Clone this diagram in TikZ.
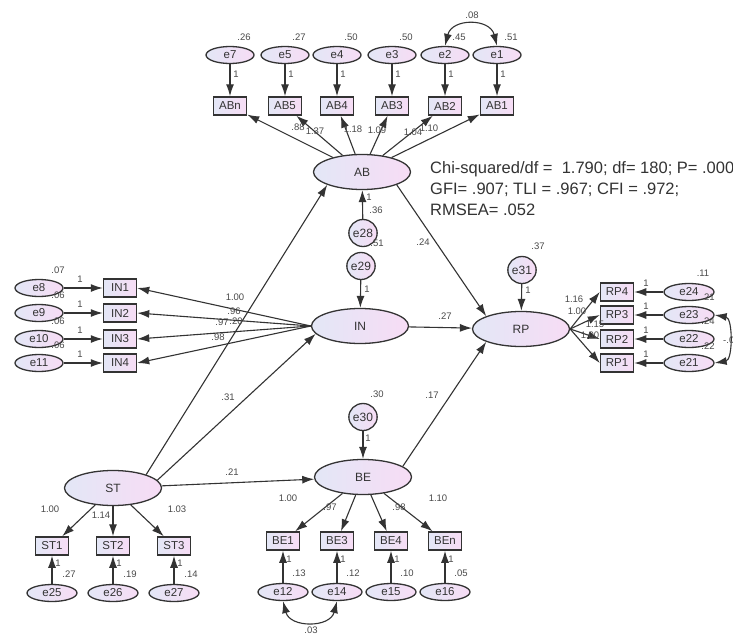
\documentclass[tikz,border=0pt]{standalone}
\usepackage{fontspec}
\setmainfont{Liberation Sans}
\usetikzlibrary{shapes.geometric,arrows.meta}
\definecolor{lc}{HTML}{333333}
\definecolor{fl}{HTML}{E3E7F6}
\definecolor{fr}{HTML}{F7DCF5}
\definecolor{tc}{HTML}{333333}
\definecolor{nc}{HTML}{4A4A4A}
\begin{document}
\begin{tikzpicture}[x=1pt,y=-1pt,
  fillsty/.style={draw=lc, left color=fl, right color=fr, inner sep=0pt, text=tc},
  lat/.style={fillsty, ellipse, line width=1.3pt, minimum width=97pt, minimum height=35pt, font=\fontsize{12}{13}\selectfont},
  err/.style={fillsty, ellipse, line width=1.3pt, minimum width=48pt, minimum height=17pt, font=\fontsize{11.5}{12}\selectfont},
  dist/.style={fillsty, ellipse, line width=1.3pt, minimum width=25pt, minimum height=27pt, font=\fontsize{12}{12}\selectfont},
  obs/.style={fillsty, rectangle, line width=1.5pt, minimum width=33pt, minimum height=18pt, font=\fontsize{11.5}{12}\selectfont},
  lbl/.style={inner sep=0pt, font=\fontsize{9.5}{10}\selectfont, text=nc},
  arr/.style={draw=lc, line width=1.1pt, -{Latex[length=12pt,width=8pt]}},
  cov/.style={draw=lc, line width=1.1pt, {Latex[length=12pt,width=8pt]}-{Latex[length=12pt,width=8pt]}},
]
\fill[white] (0,0) rectangle (733,634);
\useasboundingbox (0,0) rectangle (733,634);

% ---------- AB block ----------
\foreach \n/\x in {e7/230,e5/285,e4/337,e3/392,e2/445,e1/497}
  \node[err] (\n) at (\x,55) {\n};
\foreach \n/\x in {ABn/230,AB5/285,AB4/337,AB3/392,AB2/445,AB1/497}
  \node[obs] (\n) at (\x,106) {\n};
\node[lat] (AB) at (362,172) {AB};
\foreach \a/\b in {e7/ABn,e5/AB5,e4/AB4,e3/AB3,e2/AB2,e1/AB1}
  \draw[arr] (\a) -- (\b);
\foreach \b in {ABn,AB5,AB4,AB3,AB2,AB1}
  \draw[arr] (AB) -- (\b);
\draw[cov] (e2.north) .. controls (452,18) and (490,18) .. (e1.north);
\foreach \x/\v [count=\i] in {230/.26,285/.27,337/.50,392/.50,445/.45,497/.51}{
  \node[lbl] (va\i) at (\x+14,37) {\v};
  \node[lbl] (oa\i) at (\x+6,74) {1};
}
\node[lbl] (c12) at (472,15) {.08};
\node[lbl] (la1) at (298,127) {.88};
\node[lbl] (la2) at (315,131) {1.37};
\node[lbl] (la3) at (353,129) {1.18};
\node[lbl] (la4) at (377,130) {1.09};
\node[lbl] (la5) at (413,132) {1.04};
\node[lbl] (la6) at (429,128) {1.10};

% fit statistics
\node[anchor=north west, align=left, inner sep=0pt, text=tc,
      font=\fontsize{16.5}{21}\selectfont] (fit) at (430,161)
  {Chi-squared/df =\ \ 1.790; df= 180; P= .000\\GFI= .907; TLI = .967; CFI = .972;\\RMSEA= .052};

% ---------- disturbances e28 / e29 ----------
\node[dist] (e28) at (363,233) {e28};
\node[dist] (e29) at (361,266) {e29};
\draw[arr] (e28) -- (AB);
\node[lbl] (o28) at (369,197) {1};
\node[lbl] (v28) at (376,210) {.36};
\node[lbl] (v29) at (377,243) {.51};

% ---------- IN block ----------
\node[lat] (IN) at (360,326) {IN};
\draw[arr] (e29) -- (IN);
\node[lbl] (o29) at (367,289) {1};
\foreach \i/\y/\v in {1/288/.07,2/313/.06,3/339/.06,4/363/.06}{
  \node[obs] (IN\i) at (120,\y) {IN\i};
  \pgfmathtruncatemacro{\k}{\i+7}
  \node[err] (e\k) at (39,\y) {e\k};
  \draw[arr] (e\k) -- (IN\i);
  \draw[arr] (IN.west) -- (IN\i.east);
  \node[lbl] (oi\i) at (80,\y-9) {1};
  \node[lbl] (vi\i) at (58,\y-18) {\v};
}
\node[lbl] (li1) at (235,297) {1.00};
\node[lbl] (li2) at (234,311) {.96};
\node[lbl] (li3) at (222,322) {.97};
\node[lbl] (li4) at (218,337) {.98};

% ---------- RP block ----------
\node[lat] (RP) at (521,329) {RP};
\node[dist] (e31) at (522,270) {e31};
\draw[arr] (e31) -- (RP);
\node[lbl] (o31) at (528,290) {1};
\node[lbl] (v31) at (538,246) {.37};
\foreach \i/\y in {4/292,3/315,2/339,1/363}{
  \node[obs] (RP\i) at (617,\y) {RP\i};
  \pgfmathtruncatemacro{\k}{\i+20}
  \node[err, minimum width=50pt] (e\k) at (689,\y) {e\k};
  \draw[arr] (e\k) -- (RP\i);
  \draw[arr] (RP.east) -- (RP\i.west);
  \node[lbl] (or\i) at (646,\y-9) {1};
}
\node[lbl] (vr4) at (703,273) {.11};
\node[lbl] (vr3) at (708,297) {.21};
\node[lbl] (vr2) at (708,321) {.24};
\node[lbl] (vr1) at (708,346) {.22};
\draw[cov] (e23.east) .. controls (733,318) and (733,360) .. (e21.east);
\node[lbl, anchor=west] (c2123) at (723,340) {-.04};
\node[lbl] (lr1) at (574,299) {1.16};
\node[lbl] (lr2) at (577,311) {1.00};
\node[lbl] (lr3) at (595,324) {1.15};
\node[lbl] (lr4) at (590,335) {1.00};

% ---------- ST block ----------
\node[lat] (ST) at (113,488) {ST};
\foreach \i/\x/\v in {1/52/.27,2/113/.19,3/174/.14}{
  \node[obs] (ST\i) at (\x,546) {ST\i};
  \pgfmathtruncatemacro{\k}{\i+24}
  \node[err, minimum width=50pt] (e\k) at (\x,593) {e\k};
  \draw[arr] (e\k) -- (ST\i);
  \draw[arr] (ST) -- (ST\i);
  \node[lbl] (os\i) at (\x+6,563) {1};
  \node[lbl] (vs\i) at (\x+17,574) {\v};
}
\node[lbl] (ls1) at (50,509) {1.00};
\node[lbl] (ls2) at (101,515) {1.14};
\node[lbl] (ls3) at (177,509) {1.03};

% ---------- BE block ----------
\node[lat] (BE) at (363,477) {BE};
\node[dist] (e30) at (363,417) {e30};
\draw[arr] (e30) -- (BE);
\node[lbl] (o30) at (368,438) {1};
\node[lbl] (v30) at (377,394) {.30};
\foreach \n/\e/\x/\v in {BE1/e12/283/.13,BE3/e14/337/.12,BE4/e15/391/.10,BEn/e16/445/.05}{
  \node[obs] (\n) at (\x,541) {\n};
  \node[err, minimum width=50pt] (\e) at (\x,592) {\e};
  \draw[arr] (\e) -- (\n);
  \draw[arr] (BE) -- (\n);
  \node[lbl] (o\e) at (\x+6,559) {1};
  \node[lbl] (v\e) at (\x+16,573) {\v};
}
\draw[cov] (e12.south) .. controls (290,628) and (330,628) .. (e14.south);
\node[lbl] (c1214) at (311,630) {.03};
\node[lbl] (lb1) at (288,498) {1.00};
\node[lbl] (lb2) at (330,507) {.97};
\node[lbl] (lb3) at (399,507) {.98};
\node[lbl] (lb4) at (438,498) {1.10};

% ---------- structural paths ----------
\draw[arr] (ST.22) -- (AB.south west);
\draw[arr] (ST.10) -- (IN.190);
\draw[arr] (ST) -- (BE);
\draw[arr] (AB.south east) -- (RP.north west);
\draw[arr] (IN) -- (RP);
\draw[arr] (BE.15) -- (RP.south west);
\node[lbl] (p1) at (236,321) {.20};
\node[lbl] (p2) at (228,397) {.31};
\node[lbl] (p3) at (232,472) {.21};
\node[lbl] (p4) at (423,242) {.24};
\node[lbl] (p5) at (445,316) {.27};
\node[lbl] (p6) at (432,395) {.17};
\end{tikzpicture}
\end{document}
